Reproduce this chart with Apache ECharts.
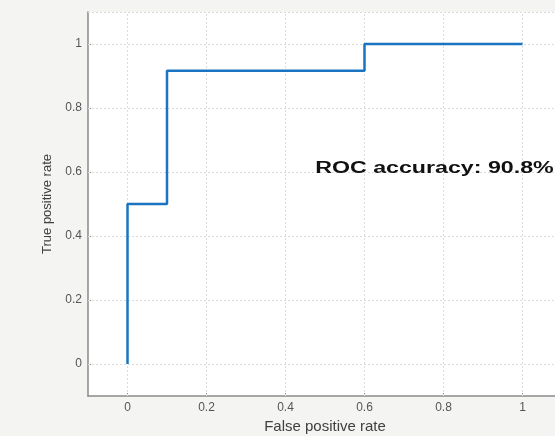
<!DOCTYPE html>
<html>
<head>
<meta charset="utf-8">
<script src="https://cdn.jsdelivr.net/npm/echarts@6/dist/echarts.min.js"></script>
<style>html,body{margin:0;padding:0;background:#f4f4f2;}#c{width:555px;height:436px;}</style>
</head>
<body>
<div id="c"></div>
<script>
var fpr = [0, 0, 0.1, 0.1, 0.6, 0.6, 1];
var tpr = [0, 0.5, 0.5, 0.9167, 0.9167, 1, 1];
var xTicks = [0, 0.2, 0.4, 0.6, 0.8, 1];
var yTicks = [0, 0.2, 0.4, 0.6, 0.8, 1];
var annotationText = 'ROC accuracy: 90.8%';
var annotationPos = [0.475, 0.612];

var chart = echarts.init(document.getElementById('c'), null, {renderer: 'canvas'});
var roc = fpr.map(function (x, i) { return [x, tpr[i]]; });
var gridStyle = {color: '#dcdcdc', type: [2, 2], width: 1};
var markData = xTicks.map(function (v) { return {xAxis: v}; })
  .concat(yTicks.map(function (v) { return {yAxis: v}; }))
  .concat([{yAxis: 1.1}]);
function fmt(v) { return String(Math.round(v * 10) / 10); }

chart.setOption({
  backgroundColor: '#f4f4f2',
  animation: false,
  grid: {left: 88, top: 12, width: 474, height: 384, show: true, backgroundColor: '#ffffff', borderWidth: 0,
    outerBoundsMode: 'none', containLabel: false},
  xAxis: {
    type: 'value', min: -0.1, max: 1.1, interval: 0.1,
    name: 'False positive rate', nameLocation: 'middle', nameGap: 23,
    nameTextStyle: {color: '#404040', fontSize: 15, fontFamily: 'Liberation Sans'},
    axisLine: {show: true, onZero: false, lineStyle: {color: '#8a8a8a', width: 1.5}},
    axisTick: {show: true, inside: true, length: 3, customValues: xTicks, lineStyle: {color: '#8a8a8a'}},
    axisLabel: {customValues: xTicks, color: '#555555', fontSize: 12, fontFamily: 'Liberation Sans', margin: 6, formatter: fmt},
    splitLine: {show: false}
  },
  yAxis: {
    type: 'value', min: -0.1, max: 1.1, interval: 0.1,
    name: 'True positive rate', nameLocation: 'middle', nameGap: 34,
    nameTextStyle: {color: '#404040', fontSize: 13, fontFamily: 'Liberation Sans'},
    axisLine: {show: true, onZero: false, lineStyle: {color: '#8a8a8a', width: 1.5}},
    axisTick: {show: true, inside: true, length: 3, customValues: yTicks, lineStyle: {color: '#8a8a8a'}},
    axisLabel: {customValues: yTicks, color: '#555555', fontSize: 12, fontFamily: 'Liberation Sans', margin: 6, formatter: fmt},
    splitLine: {show: false}
  },
  series: [
    {
      type: 'line', data: [], silent: true,
      markLine: {symbol: 'none', silent: true, label: {show: false}, lineStyle: gridStyle, data: markData}
    },
    {
      type: 'line', data: roc, showSymbol: false, symbol: 'none',
      lineStyle: {color: '#1a74c2', width: 2.5}, z: 5
    }
  ]
});

var p = chart.convertToPixel({gridIndex: 0}, annotationPos);
chart.setOption({
  graphic: [{
    type: 'text', x: p[0], y: p[1], scaleX: 1.45, scaleY: 1, z: 10, silent: true,
    style: {text: annotationText, fill: '#111111', font: 'bold 16px "Liberation Sans"',
      textAlign: 'left', textVerticalAlign: 'middle', verticalAlign: 'middle'}
  }]
});
</script>
</body>
</html>
